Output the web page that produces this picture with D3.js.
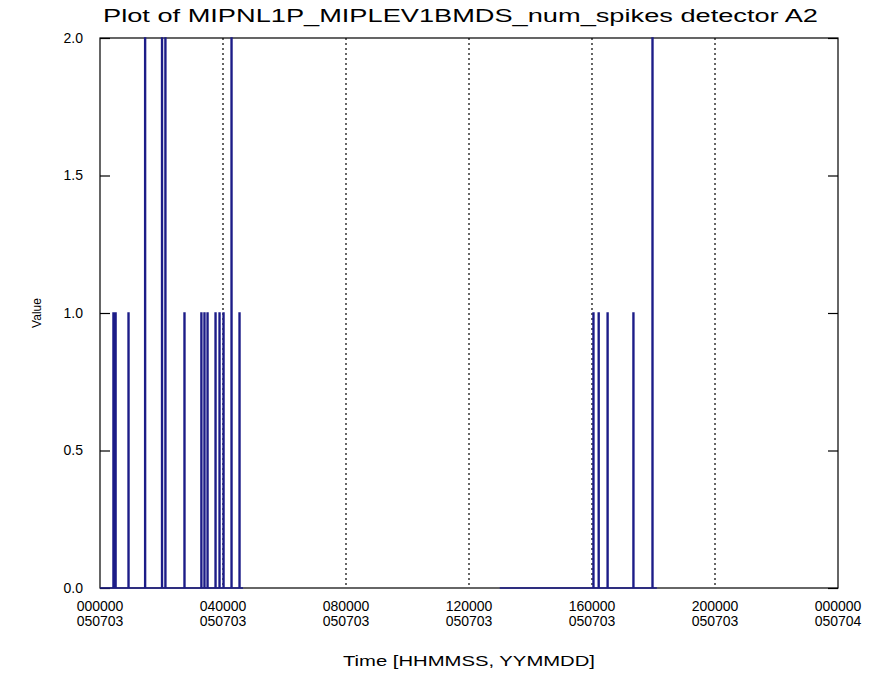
<!DOCTYPE html>
<html>
<head>
<meta charset="utf-8">
<script src="https://cdn.jsdelivr.net/npm/d3@7"></script>
<style>
  body { margin: 0; background: #fff; }
  svg { display: block; font-family: "Liberation Sans", Arial, sans-serif; }
</style>
</head>
<body>
<svg width="889" height="685"></svg>
<script>
// data (time in hours since 000000 050703)
const segments = [[0, 4.65], [13.0, 18.11]];
const spikeTimes = [0.42, 0.49, 0.91, 1.45, 2.0, 2.11, 2.73, 3.28, 3.38, 3.48, 3.74, 3.87, 4.0, 4.26, 4.52,
                    16.03, 16.2, 16.49, 17.33, 17.95];
const spikeValues = [1, 1, 1, 2, 2, 2, 1, 1, 1, 1, 1, 1, 1, 2, 1,
                     1, 1, 1, 1, 2];
const xTickHours = [0, 4, 8, 12, 16, 20, 24];
const xTickTimes = ["000000", "040000", "080000", "120000", "160000", "200000", "000000"];
const xTickDates = ["050703", "050703", "050703", "050703", "050703", "050703", "050704"];
const yTicks = [0, 0.5, 1.0, 1.5, 2.0];

const svg = d3.select("svg");
const mLeft = 100, mRight = 838, mTop = 38, mBottom = 588;
const binW = 0.035; // bin width in hours

const x = d3.scaleLinear().domain([0, 24]).range([mLeft, mRight]);
const y = d3.scaleLinear().domain([0, 2]).range([mBottom, mTop]);

// dotted grid at interior x ticks
svg.append("g").selectAll("line")
  .data(xTickHours.slice(1, -1))
  .join("line")
  .attr("x1", d => x(d)).attr("x2", d => x(d))
  .attr("y1", mTop).attr("y2", mBottom)
  .attr("stroke", "#000").attr("stroke-width", 1.2)
  .attr("stroke-dasharray", "2,3");

// frame
svg.append("rect")
  .attr("x", mLeft).attr("y", mTop)
  .attr("width", mRight - mLeft).attr("height", mBottom - mTop)
  .attr("fill", "none").attr("stroke", "#000").attr("stroke-width", 1.2);

// y axes
const yAxis = svg.append("g")
  .attr("transform", `translate(${mLeft},0)`)
  .call(d3.axisLeft(y).tickValues(yTicks).tickSize(-10).tickPadding(17).tickFormat(d3.format(".1f")));
yAxis.select(".domain").remove();
yAxis.selectAll("line").attr("stroke-width", 1.2);
yAxis.selectAll("text").attr("font-size", 14).attr("fill", "#000");

const yAxisR = svg.append("g")
  .attr("transform", `translate(${mRight},0)`)
  .call(d3.axisRight(y).tickValues(yTicks).tickSize(-10).tickFormat(""));
yAxisR.select(".domain").remove();
yAxisR.selectAll("line").attr("stroke-width", 1.2);

// x tick labels, two lines each
const xl = svg.append("g").selectAll("text")
  .data(xTickHours)
  .join("text")
  .attr("x", d => x(d))
  .attr("y", 611)
  .attr("text-anchor", "middle")
  .attr("font-size", 14)
  .attr("fill", "#000");
xl.append("tspan").attr("x", d => x(d)).text((d, i) => xTickTimes[i]);
xl.append("tspan").attr("x", d => x(d)).attr("dy", 15).text((d, i) => xTickDates[i]);

// data line, histogram style
const line = d3.line().x(d => x(d[0])).y(d => y(d[1]));
segments.forEach(([t0, t1]) => {
  const pts = [[t0, 0]];
  spikeTimes.forEach((t, i) => {
    if (t < t0 || t > t1) return;
    pts.push([t, 0], [t, spikeValues[i]], [t + binW, spikeValues[i]], [t + binW, 0]);
  });
  pts.push([t1, 0]);
  svg.append("path")
    .attr("d", line(pts))
    .attr("fill", "none")
    .attr("stroke", "#1c1c88")
    .attr("stroke-width", 1.3);
});

// titles
svg.append("text")
  .attr("x", 103).attr("y", 22)
  .attr("font-size", 18)
  .attr("textLength", 715).attr("lengthAdjust", "spacingAndGlyphs")
  .text("Plot of MIPNL1P_MIPLEV1BMDS_num_spikes detector A2");

svg.append("text")
  .attr("x", 343).attr("y", 666)
  .attr("font-size", 15)
  .attr("textLength", 252).attr("lengthAdjust", "spacingAndGlyphs")
  .text("Time [HHMMSS, YYMMDD]");

svg.append("text")
  .attr("transform", "translate(41,313) rotate(-90)")
  .attr("text-anchor", "middle")
  .attr("font-size", 12)
  .text("Value");
</script>
</body>
</html>
